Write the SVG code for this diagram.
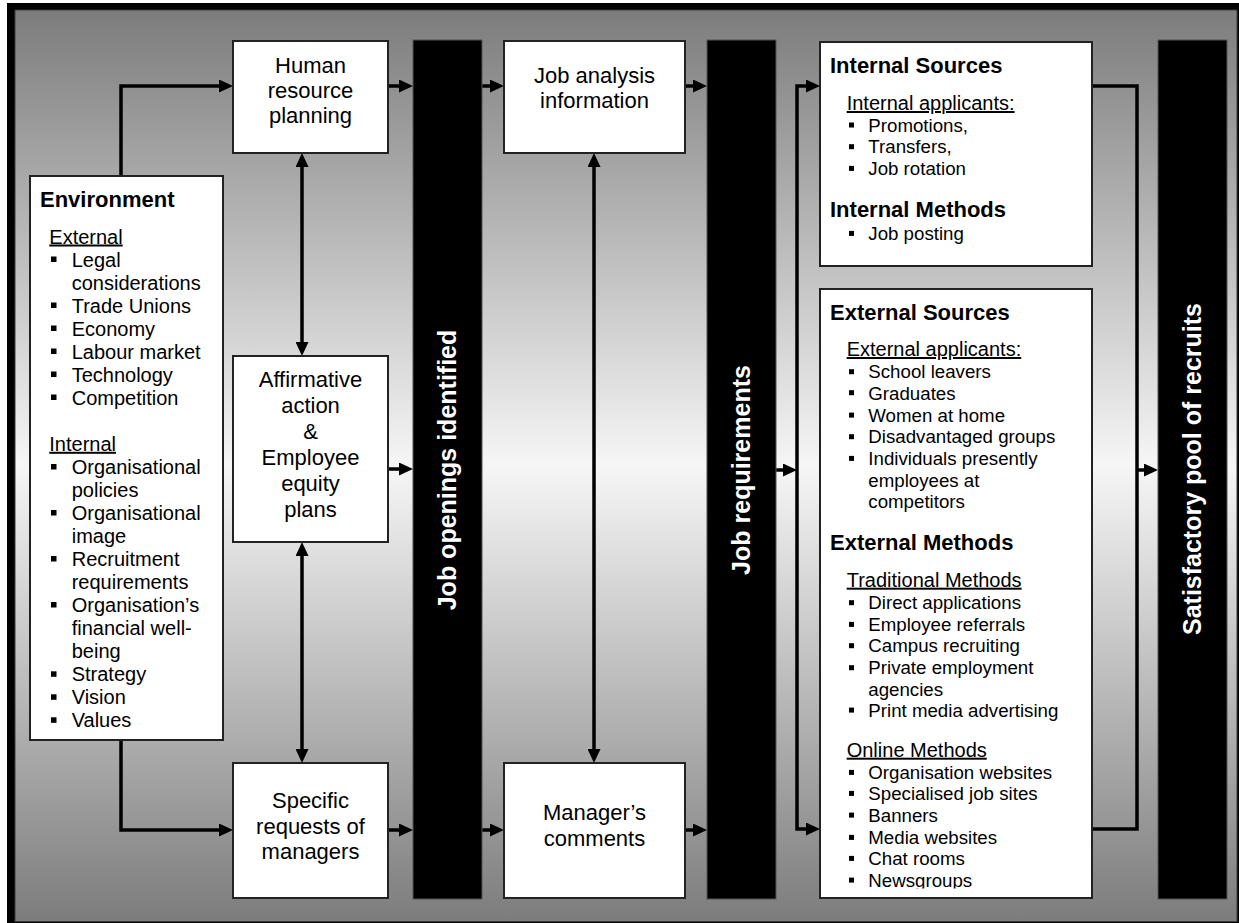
<svg xmlns="http://www.w3.org/2000/svg" width="1239" height="923" viewBox="0 0 1239 923">
  <defs>
    <linearGradient id="bg" x1="0" y1="0" x2="0" y2="1">
      <stop offset="0" stop-color="#7c7c7c"/>
      <stop offset="0.5" stop-color="#f6f6f6"/>
      <stop offset="1" stop-color="#7c7c7c"/>
    </linearGradient>
    <marker id="head" markerUnits="userSpaceOnUse" markerWidth="14" markerHeight="13" refX="6" refY="6.5" orient="auto-start-reverse">
      <path d="M0,0 L14,6.5 L0,13 Z" fill="#000"/>
    </marker>
    <clipPath id="clipLast">
      <rect x="820" y="860" width="272" height="28.5"/>
    </clipPath>
    <style>
      .box { fill: #fff; stroke: #222; stroke-width: 2; }
      .bar { fill: #000; stroke: #555; stroke-width: 1; }
      .wire { fill: none; stroke: #000; stroke-width: 3.5; }
      .arrow { fill: none; stroke: #000; stroke-width: 3.5; marker-end: url(#head); }
      .both { fill: none; stroke: #000; stroke-width: 3.5; marker-start: url(#head); marker-end: url(#head); }
      .label { font-family: "Liberation Sans", Arial, sans-serif; font-size: 22px; fill: #000; text-anchor: middle; }
      .vlabel { font-family: "Liberation Sans", Arial, sans-serif; font-size: 25px; font-weight: bold; fill: #fff; text-anchor: middle; }
      .head { font-family: "Liberation Sans", Arial, sans-serif; font-size: 22px; font-weight: bold; fill: #000; }
      .env { font-family: "Liberation Sans", Arial, sans-serif; font-size: 20px; fill: #000; }
      .sub { font-family: "Liberation Sans", Arial, sans-serif; font-size: 20px; fill: #000; text-decoration: underline; }
      .item { font-family: "Liberation Sans", Arial, sans-serif; font-size: 18.7px; fill: #000; }
      .dot { fill: #000; }
    </style>
  </defs>

  <!-- frame and shaded background -->
  <rect x="7" y="3" width="1232" height="920" fill="#000"/>
  <rect x="15" y="10" width="1222" height="911.5" fill="url(#bg)" stroke="#3c3c3c" stroke-width="1"/>

  <!-- connectors -->
  <g id="connectors">
    <path class="arrow" d="M121,176 V86 H225"/>
    <path class="arrow" d="M121,740 V830 H225"/>
    <path class="both" d="M302,161 V348"/>
    <path class="both" d="M302,550 V755"/>
    <path class="arrow" d="M388,86 H405"/>
    <path class="arrow" d="M388,469 H405"/>
    <path class="arrow" d="M388,830 H405"/>
    <path class="arrow" d="M482,86 H496"/>
    <path class="arrow" d="M482,830 H496"/>
    <path class="both" d="M594,161 V755"/>
    <path class="arrow" d="M685,86 H699"/>
    <path class="arrow" d="M685,830 H699"/>
    <path class="arrow" d="M776,470 H789"/>
    <path class="both" d="M812,86 H797 V829 H812"/>
    <path class="wire" d="M1092,86 H1137 V829 H1092"/>
    <path class="arrow" d="M1137,470 H1150"/>
  </g>

  <!-- vertical stage bars -->
  <g id="bar-openings">
    <rect class="bar" x="413" y="40" width="69" height="859"/>
    <text class="vlabel" transform="translate(456,470) rotate(-90)">Job openings identified</text>
  </g>
  <g id="bar-requirements">
    <rect class="bar" x="707" y="40" width="69" height="859"/>
    <text class="vlabel" transform="translate(750,470) rotate(-90)">Job requirements</text>
  </g>
  <g id="bar-pool">
    <rect class="bar" x="1158" y="40" width="69" height="859"/>
    <text class="vlabel" transform="translate(1201,469) rotate(-90)">Satisfactory pool of recruits</text>
  </g>

  <!-- planning inputs -->
  <g id="hr-planning">
    <rect class="box" x="233" y="41" width="155" height="112"/>
    <text class="label" x="310.5" y="72.7">Human</text>
    <text class="label" x="310.5" y="97.7">resource</text>
    <text class="label" x="310.5" y="122.7">planning</text>
  </g>
  <g id="affirmative-action">
    <rect class="box" x="233" y="356" width="155" height="186"/>
    <text class="label" x="310.5" y="387.3">Affirmative</text>
    <text class="label" x="310.5" y="413.2">action</text>
    <text class="label" x="310.5" y="439">&amp;</text>
    <text class="label" x="310.5" y="464.8">Employee</text>
    <text class="label" x="310.5" y="490.7">equity</text>
    <text class="label" x="310.5" y="516.5">plans</text>
  </g>
  <g id="manager-requests">
    <rect class="box" x="233" y="763" width="155" height="135"/>
    <text class="label" x="310.5" y="808.3">Specific</text>
    <text class="label" x="310.5" y="833.6">requests of</text>
    <text class="label" x="310.5" y="859">managers</text>
  </g>

  <g id="job-analysis">
    <rect class="box" x="504" y="41" width="181" height="112"/>
    <text class="label" x="594.5" y="82.7">Job analysis</text>
    <text class="label" x="594.5" y="108.3">information</text>
  </g>
  <g id="manager-comments">
    <rect class="box" x="504" y="763" width="181" height="135"/>
    <text class="label" x="594.5" y="820">Manager’s</text>
    <text class="label" x="594.5" y="845.7">comments</text>
  </g>

  <!-- environment factors -->
  <g id="environment">
    <rect class="box" x="30" y="176" width="193" height="564"/>
    <text class="head" x="40" y="206.7">Environment</text>
    <text class="sub" x="49.3" y="243.5">External</text>
    <rect class="dot" x="51" y="256.5" width="5.5" height="5.5"/>
    <text class="env" x="71.7" y="266.5">Legal</text>
    <text class="env" x="71.7" y="289.5">considerations</text>
    <rect class="dot" x="51" y="302.5" width="5.5" height="5.5"/>
    <text class="env" x="71.7" y="312.5">Trade Unions</text>
    <rect class="dot" x="51" y="325.5" width="5.5" height="5.5"/>
    <text class="env" x="71.7" y="335.5">Economy</text>
    <rect class="dot" x="51" y="348.5" width="5.5" height="5.5"/>
    <text class="env" x="71.7" y="358.5">Labour market</text>
    <rect class="dot" x="51" y="371.5" width="5.5" height="5.5"/>
    <text class="env" x="71.7" y="381.5">Technology</text>
    <rect class="dot" x="51" y="394.5" width="5.5" height="5.5"/>
    <text class="env" x="71.7" y="404.5">Competition</text>
    <text class="sub" x="49.3" y="450.8">Internal</text>
    <rect class="dot" x="51" y="464" width="5.5" height="5.5"/>
    <text class="env" x="71.7" y="474">Organisational</text>
    <text class="env" x="71.7" y="497">policies</text>
    <rect class="dot" x="51" y="510" width="5.5" height="5.5"/>
    <text class="env" x="71.7" y="520">Organisational</text>
    <text class="env" x="71.7" y="543">image</text>
    <rect class="dot" x="51" y="556" width="5.5" height="5.5"/>
    <text class="env" x="71.7" y="566">Recruitment</text>
    <text class="env" x="71.7" y="589">requirements</text>
    <rect class="dot" x="51" y="602" width="5.5" height="5.5"/>
    <text class="env" x="71.7" y="612.3">Organisation’s</text>
    <text class="env" x="71.7" y="635.3">financial well-</text>
    <text class="env" x="71.7" y="658.3">being</text>
    <rect class="dot" x="51" y="671.3" width="5.5" height="5.5"/>
    <text class="env" x="71.7" y="681.3">Strategy</text>
    <rect class="dot" x="51" y="694.3" width="5.5" height="5.5"/>
    <text class="env" x="71.7" y="704.3">Vision</text>
    <rect class="dot" x="51" y="717.3" width="5.5" height="5.5"/>
    <text class="env" x="71.7" y="727.3">Values</text>
  </g>

  <!-- internal recruitment -->
  <g id="internal-sources">
    <rect class="box" x="820" y="42" width="272" height="224"/>
    <text class="head" x="830" y="72.7">Internal Sources</text>
    <text class="sub" x="846.7" y="110">Internal applicants:</text>
    <rect class="dot" x="849" y="122.5" width="5" height="5"/>
    <text class="item" x="868.3" y="131.7">Promotions,</text>
    <rect class="dot" x="849" y="144.2" width="5" height="5"/>
    <text class="item" x="868.3" y="153.3">Transfers,</text>
    <rect class="dot" x="849" y="165.9" width="5" height="5"/>
    <text class="item" x="868.3" y="175">Job rotation</text>
    <text class="head" x="830" y="217.3">Internal Methods</text>
    <rect class="dot" x="849" y="230.9" width="5" height="5"/>
    <text class="item" x="868.3" y="240">Job posting</text>
  </g>

  <!-- external recruitment -->
  <g id="external-sources">
    <rect class="box" x="820" y="289" width="272" height="609"/>
    <text class="head" x="830" y="320">External Sources</text>
    <text class="sub" x="846.7" y="356">External applicants:</text>
    <rect class="dot" x="849" y="369.2" width="5" height="5"/>
    <text class="item" x="868.3" y="378.3">School leavers</text>
    <rect class="dot" x="849" y="390.2" width="5" height="5"/>
    <text class="item" x="868.3" y="399.5">Graduates</text>
    <rect class="dot" x="849" y="412.6" width="5" height="5"/>
    <text class="item" x="868.3" y="421.7">Women at home</text>
    <rect class="dot" x="849" y="434.2" width="5" height="5"/>
    <text class="item" x="868.3" y="443.3">Disadvantaged groups</text>
    <rect class="dot" x="849" y="455.9" width="5" height="5"/>
    <text class="item" x="868.3" y="465">Individuals presently</text>
    <text class="item" x="868.3" y="486.7">employees at</text>
    <text class="item" x="868.3" y="508.3">competitors</text>
    <text class="head" x="830" y="550">External Methods</text>
    <text class="sub" x="846.7" y="586.7">Traditional Methods</text>
    <rect class="dot" x="849" y="600.2" width="5" height="5"/>
    <text class="item" x="868.3" y="609.3">Direct applications</text>
    <rect class="dot" x="849" y="621.9" width="5" height="5"/>
    <text class="item" x="868.3" y="631">Employee referrals</text>
    <rect class="dot" x="849" y="643.2" width="5" height="5"/>
    <text class="item" x="868.3" y="652.3">Campus recruiting</text>
    <rect class="dot" x="849" y="665.2" width="5" height="5"/>
    <text class="item" x="868.3" y="674.3">Private employment</text>
    <text class="item" x="868.3" y="696">agencies</text>
    <rect class="dot" x="849" y="707.6" width="5" height="5"/>
    <text class="item" x="868.3" y="716.7">Print media advertising</text>
    <text class="sub" x="846.7" y="756.7">Online Methods</text>
    <rect class="dot" x="849" y="769.9" width="5" height="5"/>
    <text class="item" x="868.3" y="779">Organisation websites</text>
    <rect class="dot" x="849" y="790.9" width="5" height="5"/>
    <text class="item" x="868.3" y="800">Specialised job sites</text>
    <rect class="dot" x="849" y="812.6" width="5" height="5"/>
    <text class="item" x="868.3" y="821.7">Banners</text>
    <rect class="dot" x="849" y="834.9" width="5" height="5"/>
    <text class="item" x="868.3" y="844">Media websites</text>
    <rect class="dot" x="849" y="855.9" width="5" height="5"/>
    <text class="item" x="868.3" y="865">Chat rooms</text>
    <rect class="dot" x="849" y="877.6" width="5" height="5"/>
    <text class="item" x="868.3" y="886.7" clip-path="url(#clipLast)">Newsgroups</text>
  </g>
</svg>
